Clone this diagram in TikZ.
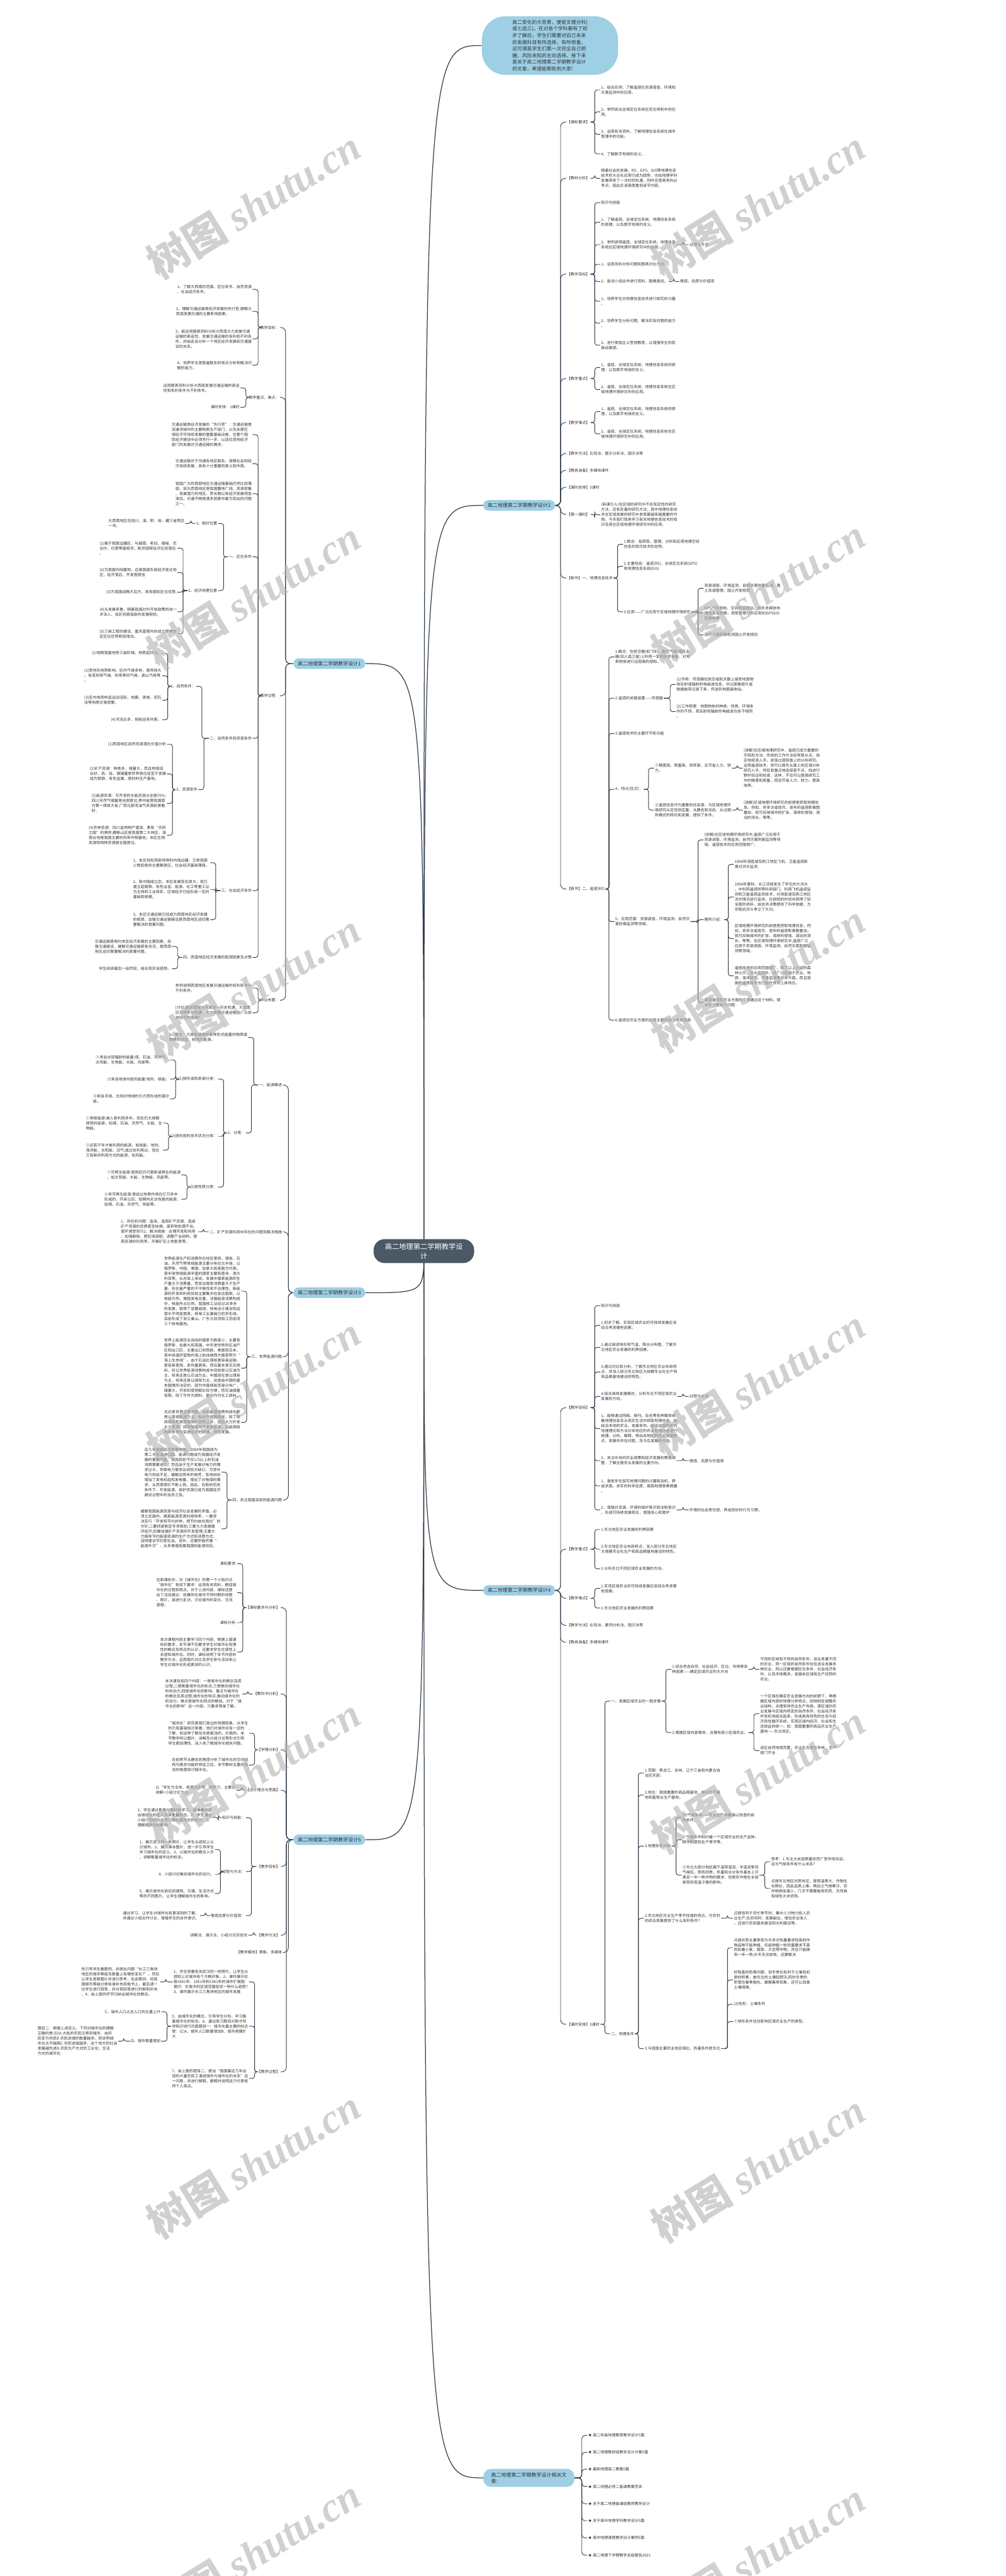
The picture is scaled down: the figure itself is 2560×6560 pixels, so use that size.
\documentclass[tikz,border=0pt]{standalone}
\usepackage{fontspec}
\setmainfont{Noto Sans CJK SC}
\newfontfamily\wmfont{Liberation Serif}
\usetikzlibrary{calc}
\definecolor{bl}{HTML}{9ECFE5}
\definecolor{cen}{HTML}{4B5967}
\definecolor{ln}{HTML}{34414E}
\definecolor{txt}{HTML}{333333}
\newcommand\sztxt{\fontsize{9.7}{12.8}\selectfont}
\newcommand\szbr{\fontsize{12.8}{16}\selectfont}
\newcommand\szcall{\fontsize{12.5}{17}\selectfont}
\newcommand\szcen{\fontsize{18}{24}\selectfont}
\pgfdeclarelayer{bgw}\pgfdeclarelayer{bg}\pgfdeclarelayer{fg}
\pgfsetlayers{bgw,bg,main,fg}
\tikzset{
  tx/.style={font=\sztxt, text=txt, inner xsep=2pt, inner ysep=0pt, align=left},
  tr/.style={tx, anchor=west},
  tl/.style={tx, anchor=east},
  conn/.style={draw=ln, line width=1.5pt},
  mconn/.style={draw=ln, line width=2pt},
  brn/.style={fill=bl, rounded corners=13pt, font=\szbr, text=txt, inner xsep=11pt, inner ysep=0pt, minimum height=27pt},
  wm/.style={font=\bfseries\fontsize{105}{105}\selectfont, text=black!30, text opacity=0.6, rotate=31.5},
}
\newcommand\lnR[3][6pt]{\draw[conn,rounded corners=#1] let \p1=(#2.east), \p2=(#3.west) in (\p1) -- (\x2-14pt,\y1) -- (\x2-14pt,\y2) -- (\p2);}
\newcommand\lnL[3][6pt]{\draw[conn,rounded corners=#1] let \p1=(#2.west), \p2=(#3.east) in (\p1) -- (\x2+14pt,\y1) -- (\x2+14pt,\y2) -- (\p2);}
\newcommand\mcR[1]{\draw[mconn] let \p1=(C.center), \p2=(#1.west) in (\p1) .. controls (\x1,\y2) .. (\p2);}
\newcommand\mcL[1]{\draw[mconn] let \p1=(C.center), \p2=(#1.east) in (\p1) .. controls (\x1,\y2) .. (\p2);}
\begin{document}
\begin{tikzpicture}[x=1pt,y=-1pt]
\begin{pgfonlayer}{bgw}
\fill[white] (0,0) rectangle (2560,6560);
\end{pgfonlayer}
\useasboundingbox (0,0) rectangle (2560,6560);

% ---------- central & callout ----------
\node[fill=cen, text=white, font=\szcen, rounded corners=28pt, minimum width=256pt, minimum height=61pt, align=center, inner sep=4pt] (C) at (1079,3186) {高二地理第二学期教学设\\计};
\node[fill=bl, rounded corners=60pt, minimum width=347pt, minimum height=149pt, font=\szcall, text=txt, align=left, inner sep=0pt] (T) at (1400,116) {高二变化的大背景，便是文理分科(\\或七选三)。在对各个学科都有了初\\步了解后，学生们需要对自己未来\\的发展科目有所选择、有所侧重。\\这可谓是学生们第一次完全自己把\\握、风险未知的主动选择。接下来\\是关于高二地理第二学期教学设计\\的文章，希望能帮助到大家!};

% ---------- branch 2 (right) ----------
\node[brn, anchor=west] (B2) at (1230,1287) {高二地理第二学期教学设计2};
\node[tr] (k1) at (1441,311) {【课标要求】};
\node[tr] (k2) at (1441,454) {【教材分析】};
\node[tr] (k3) at (1441,698) {【教学目标】};
\node[tr] (k4) at (1441,964) {【教学重点】};
\node[tr] (k5) at (1441,1076) {【教学难点】};
\node[tr] (k6) at (1441,1155) {【教学方法】比较法、图示分析法、图示法等};
\node[tr] (k7) at (1441,1198) {【教具准备】多媒体课件};
\node[tr] (k8) at (1441,1241) {【课时安排】3课时};
\node[tr] (k9) at (1441,1310) {【第一课时】};
\node[tr] (k10) at (1441,1472) {【板书】一、地理信息技术};
\node[tr] (k11) at (1441,2264) {【板书】二、遥感(RS)};

\node[tr] (k1a) at (1528,229) {1、结合实例，了解遥感在资源普查、环境和\\灾害监测中的应用。};
\node[tr] (k1b) at (1528,285) {2、举例说出全球定位系统在定位导航中的应\\用。};
\node[tr] (k1c) at (1528,342) {3、运用有关资料，了解地理信息系统在城市\\管理中的功能。};
\node[tr] (k1d) at (1528,392) {4、了解数字地球的含义。};
\node[tr] (k2a) at (1528,454) {随着社会的发展，RS、GPS、GIS等地理信息\\技术的大众化应用已成为趋势，也给地理学科\\发展带来了一次好的机遇，同时也是高考的必\\考点，因此应该高度重视该节内容。};
\node[tr] (k3a) at (1528,516) {知识与技能};
\node[tr] (k3b) at (1528,566) {1、了解遥感、全球定位系统、地理信息系统\\的原理，以及数字地球的含义。};
\node[tr] (k3c) at (1528,623) {2、举例说明遥感、全球定位系统、地理信息\\系统在区域地理环境研究中的应用。};
\node[tr] (k3c1) at (1753,623) {过程与方法};
\node[tr] (k3d) at (1528,673) {1、运用资料分析问题和图表对比方法。};
\node[tr] (k3e) at (1528,717) {2、尝试小组合作进行资料、图像查找。};
\node[tr] (k3e1) at (1729,717) {情感、态度与价值观};
\node[tr] (k3f) at (1528,767) {1、培养学生对地理信息技术进行探究的兴趣\\。};
\node[tr] (k3g) at (1528,823) {2、培养学生分析问题、解决实际问题的能力\\。};
\node[tr] (k3h) at (1528,879) {3、进行爱国主义思想教育，以增强学生的民\\族自豪感。};
\node[tr] (k4a) at (1528,936) {1、遥感、全球定位系统、地理信息系统的原\\理，以及数字地球的含义。};
\node[tr] (k4b) at (1528,992) {2、遥感、全球定位系统、地理信息系统在区\\域地理环境研究中的应用。};
\node[tr] (k5a) at (1528,1048) {1、遥感、全球定位系统、地理信息系统的原\\理，以及数字地球的含义。};
\node[tr] (k5b) at (1528,1105) {2、遥感、全球定位系统、地理信息系统在区\\域地理环境研究中的应用。};
\node[tr] (k9a) at (1528,1311) {(新课引入)在区域的研究中不仅有定性的研究\\方法，还有定量的研究方法，其中地理信息技\\术在区域发展的研究中发挥着越来越重要的作\\用。今天我们就来学习有关地理信息技术的知\\识及其在区域地理环境研究中的应用。};
\node[tr] (k10a) at (1586,1386) {1.概念：指获取、管理、分析和应用地理空间\\信息的现代技术的总称。};
\node[tr] (k10b) at (1586,1442) {2.主要包括：遥感(RS)、全球定位系统(GPS)\\和地理信息系统(GIS)};
\node[tr] (k10c) at (1586,1558) {3.应用——广泛应用于区域地理环境研究};
\node[tr] (k10c1) at (1791,1498) {资源调查、环境监测、自然灾害防御监测、国\\土资源管理、国土开发规划};
\node[tr] (k10c2) at (1791,1561) {GPS汽车导航、空间信息网站、城市多媒体地\\理信息系统等。获取管理分析应用RSGPSGIS\\区域地理};
\node[tr] (k10c3) at (1791,1617) {自然灾害防御检测国土开发规划};
\node[tr] (k11a) at (1564,1673) {1.概念：在航空器(如飞机、高空气球)或航天\\器(如人造卫星)上利用一定的技术装备，对地\\表物体进行远距离的感知。};
\node[tr] (k11b) at (1564,1778) {2.遥感的关键装置——传感器};
\node[tr] (k11b1) at (1720,1743) {(1)作用：传感器在航空或航天器上接受地面物\\体反射或辐射的电磁波信息，并以图像胶片或\\数据磁带记录下来，传送到地面接收站。};
\node[tr] (k11b2) at (1720,1812) {(2)工作原理：地面物体的种类、性质、环境条\\件的不同，其反射和辐射的电磁波也各不相同\\。};
\node[tr] (k11c) at (1564,1868) {3.遥感技术的主要环节和功能};
\node[tr] (k11d) at (1564,2010) {4、特点(优点)：};
\node[tr] (k11d1) at (1665,1956) {①精度高、质量高、效率高，且节省人力、财\\力。};
\node[tr] (k11d1a) at (1891,1956) {(讲解)在区域地理研究中，遥感已成为重要的\\手段和方法。传统的工作方法经常是从点、线\\实地观测入手，逐渐过渡到面上的分析研究。\\运用遥感技术，则可以首先从面上的区域分析\\研究入手，然后有重点地选择若干点、线进行\\野外验证和检查。这样，不仅可以提高研究工\\作的精度和质量，而且节省人力、财力，提高\\效率。};
\node[tr] (k11d2) at (1665,2063) {②遥感信息作为重要的信息源，为区域地理环\\境研究从定性到定量、从静态到动态、从过程\\到模式的转化和发展，提供了条件。};
\node[tr] (k11d2a) at (1891,2063) {(讲解)区域地理环境研究的前提是获取地理信\\息。例如，将多次或逐月、逐年的遥感影像图\\叠加，就可反映城市的扩张、海岸的侵蚀、湖\\泊的消长，等等。};
\node[tr] (k11e) at (1564,2347) {5、应用范围：资源调查、环境监测、自然灾\\害防御监测等领域。};
\node[tr] (k11e1) at (1791,2139) {(讲解)在区域地理环境研究中,遥感广泛应用于\\资源调查、环境监测、自然灾害防御监测等领\\域。遥感技术的应用范围很广。};
\node[tr] (k11e2) at (1791,2342) {案例介绍：};
\node[tr] (k11e2a) at (1868,2201) {1998年洞庭湖及荆江地区飞机、卫星遥感影\\像对洪水监测};
\node[tr] (k11e2b) at (1868,2284) {1998年夏秋，长江流域发生了罕见的大洪水\\，中科院遥感所等科研部门，利用飞机遥感监\\测和卫星遥感监测技术，对洞庭湖及荆江地区\\洪灾情况进行监测，在很短的时间内获得了较\\全面的资料，给抗洪决策提供了科学依据，为\\夺取抗洪斗争立了大功。};
\node[tr] (k11e2c) at (1868,2390) {区域地理环境研究的前提是获取地理信息。例\\如，将多次或逐月、逐年的遥感影像图叠加，\\就可反映城市的扩张、海岸的侵蚀、湖泊的消\\长，等等。在区域地理环境研究中,遥感广泛\\应用于资源调查、环境监测、自然灾害防御监\\测等领域。};
\node[tr] (k11e2d) at (1868,2485) {遥感技术的应用范围很广，除了以上介绍的森\\林火灾、洪水监测外，还广泛应用于农业、地\\质、海洋研究、环境监测等许多方面。而且我\\国的遥感技术也已经在世界上具地位。};
\node[tr] (k11e3) at (1791,2553) {阅读遥感在农业方面的应用通过这个材料，使\\学生了解如下问题：};
\node[tr] (k11f) at (1564,2598) {6.遥感在农业方面的应用主要包括土地资源调};

% ---------- branch 4 (right) ----------
\node[brn, anchor=west] (B4) at (1230,4050) {高二地理第二学期教学设计4};
\node[tr] (m3) at (1441,3585) {【教学目标】};
\node[tr] (m4) at (1441,3945) {【教学重点】};
\node[tr] (m5) at (1441,4070) {【教学难点】};
\node[tr] (m6) at (1441,4139) {【教学方法】比较法、案例分析法、图示法等};
\node[tr] (m7) at (1441,4182) {【教具准备】多媒体课件};
\node[tr] (m8) at (1441,5155) {【课时安排】3课时};
\node[tr] (m3a) at (1528,3325) {知识与技能};
\node[tr] (m3b) at (1528,3375) {1.初步了解，实现区域农业的可持续发展应该\\综合考虑哪些因素。};
\node[tr] (m3c) at (1528,3431) {2.通过阅读地形和气温、降水分布图，了解东\\北地区农业发展的利弊因素。};
\node[tr] (m3d) at (1528,3494) {3.通过对比和分析，了解东北地区农业布局特\\点，并深入探讨东北地区大规模专业化生产和\\商品粮基地建设的特色。};
\node[tr] (m3e) at (1528,3556) {4.结合具体发展模式，分析东北不同区域农业\\发展的方向。};
\node[tr] (m3e1) at (1753,3556) {过程与方法};
\node[tr] (m3f) at (1528,3638) {1、能够通过网络、报刊、杂志等各种媒体收\\集地理信息及从现实生活中获取地理信息，如\\结合本地的农业、发展条件。尝试运用所学的\\地理理论和方法对本地区的农业地理信息进行\\梳理、分析、解释，得出本地区的农业发展特\\点、发展中存在问题，及今后发展的方向。};
\node[tr] (m3g) at (1528,3720) {2、关注中央的农业政策和经济发展的策略调\\整，了解全国农业发展的主要方向。};
\node[tr] (m3g1) at (1753,3720) {情感、态度与价值观};
\node[tr] (m3h) at (1528,3784) {1、激发学生探究地理问题的兴趣和动机，养\\成求真、求实的科学态度，提高地理审美情趣\\。};
\node[tr] (m3i) at (1528,3845) {2、增强对资源、环境的保护意识和法制意识\\，形成可持续发展观念，增强关心和爱护};
\node[tr] (m3i1) at (1753,3845) {环境的社会责任感，养成良好的行为习惯。};
\node[tr] (m4a) at (1528,3895) {1.东北地区农业发展的利弊因素};
\node[tr] (m4b) at (1528,3945) {2.东北地区农业布局特点，深入探讨东北地区\\大规模专业化生产和商品粮基地建设的特色。};
\node[tr] (m4c) at (1528,3995) {3.分析东北不同区域农业发展的方向。};
\node[tr] (m5a) at (1528,4045) {1.实现区域农业的可持续发展应该综合考虑哪\\些因素。};
\node[tr] (m5b) at (1528,4095) {2.东北地区农业发展的利弊因素};
\node[tr] (m8a) at (1554,4332) {一、发展区域农业的一般步骤};
\node[tr] (m8a1) at (1709,4251) {1.综合考虑自然、社会经济、区位、市场等各\\种因素——确定区域农业的大方向};
\node[tr] (m8a1a) at (1933,4251) {不同的区域有不同的自然条件，适合发展不同\\的农业，同一区域的自然条件往往适合发展多\\种农业，所以还要根据区位条件、社会经济条\\件，以及市场需求，发展本区域有生产优势的\\农业。};
\node[tr] (m8a2) at (1709,4412) {2.根据区域内部差异，合理布局小区域农业。};
\node[tr] (m8a2a) at (1933,4364) {一个区域在确定农业发展方向的前提下，再根\\据区域内部的地理分异特点，因地制宜调整农\\业结构，合理安排农业生产布局，使区域的农\\业发展与区域内特定的自然条件、社会经济条\\件有机地结合起来，形成具有特色的生态与经\\济良性循环系统，实现区域内经济、社会和生\\态效益的统一。如：我国重要的商品农业生产\\基地——东北地区。};
\node[tr] (m8a2b) at (1933,4458) {该区自然地域完整，农业生态类型多样，生产\\部门齐全};
\node[tr] (m8b) at (1554,5179) {二、地理条件};
\node[tr] (m8b1) at (1639,4515) {1.范围：黑龙江、吉林、辽宁三省和内蒙古自\\治区东部。};
\node[tr] (m8b2) at (1639,4571) {2.地位：我国重要的商品粮基地、林业生产基\\地和畜牧业生产基地。};
\node[tr] (m8b3) at (1639,4701) {3.地理条件分析};
\node[tr] (m8b3a) at (1735,4628) {(1)气候条件——农业生产中最难以改造的自\\然条件。};
\node[tr] (m8b3b) at (1735,4685) {①气候条件制约着一个区域农业的生产品种、\\耕作制度和生产季节等。};
\node[tr] (m8b3c) at (1735,4775) {②东北大部分地区属于温带湿润、半湿润季风\\气候区。雨热同季，热量和水分条件基本上可\\满足一年一熟作物的需求，但是农作物生长容\\易受到低温冷害的影响。};
\node[tr] (m8b3c1) at (1961,4741) {思考：1.东北大米因质量优而广受市场欢迎，\\这与气候条件有什么关系?};
\node[tr] (m8b3c2) at (1961,4809) {点拨东北地区光照充足，昼夜温差大，作物生\\长期长，因此品质上乘，再加之气候寒冷，农\\作物病虫害少，几乎不需要施用农药，天然具\\有绿色大米优势。};
\node[tr] (m8b4) at (1639,4885) {2.东北地区农业生产季节性强的特点，为农村\\的综合发展提供了什么有利条件?};
\node[tr] (m8b4a) at (1866,4885) {点拨有利于农忙季节时，集中人力物力投入农\\业生产;在农闲时，发展副业，增加农业收入\\，还进行农田基本建设和水利建设等。};
\node[tr] (m8b5) at (1639,5217) {3.与我国主要农业地区相比，热量条件是东北};
\node[tr] (m8b5a) at (1866,4960) {点拨劣势主要表现为许多对热量要求较高的作\\物品种不能种植，仅能种植一些热量要求不高\\的如春小麦、甜菜、大豆等作物，并且只能做\\到一年一熟;长冬无法放牧，还要解决};
\node[tr] (m8b5b) at (1866,5042) {好牲畜的防寒问题，但冬季长有利于土壤有机\\质的积累，故东北的土壤较肥沃;同时冬季的\\积雪在春季融化，缓解春旱现象，还可以改善\\土壤墒情。};
\node[tr] (m8b5c) at (1866,5104) {(2)地形、土壤条件};
\node[tr] (m8b5d) at (1866,5148) {①地形条件往往影响区域农业生产的类型。};

% ---------- related articles (right) ----------
\node[brn, anchor=west, align=left, inner xsep=20pt, minimum height=46pt, rounded corners=20pt, font=\fontsize{12.8}{16}\selectfont] (B6) at (1230,6310) {高二地理第二学期教学设计相关文\\章：};
\node[tr] (r3) at (1495,6202) {★ 高二年级地理教育教学设计5篇};
\node[tr] (r4) at (1495,6245) {★ 高二地理教研组教学设计方案5篇};
\node[tr] (r5) at (1495,6288) {★ 最新地理高二教案5篇};
\node[tr] (r6) at (1495,6332) {★ 高二地理必修二备课教案范本};
\node[tr] (r7) at (1495,6376) {★ 关于高二地理备课组教师教学设计};
\node[tr] (r8) at (1495,6419) {★ 关于高中地理学科教学设计5篇};
\node[tr] (r9) at (1495,6463) {★ 高中地理课程教学设计案例5篇};
\node[tr] (r10) at (1495,6507) {★ 高二地理下学期教学总结报告2021};

% ---------- branch 1 (left) ----------
\node[brn, anchor=east] (B1) at (930,1690) {高二地理第二学期教学设计1};
\node[tl] (n1) at (713,834) {教学目标：};
\node[tl] (n1a) at (643,737) {1、了解大西南的范围、区位条件、自然资源\\、社会经济条件。};
\node[tl] (n1b) at (643,793) {2、理解交通运输是经济发展的先行官;理解大\\西南发展交通的主要影响因素。};
\node[tl] (n1c) at (643,863) {3、能运用图表资料分析大西南大力发展交通\\运输的紧迫性，发展交通运输的有利和不利条\\件，并由此会分析一个地区经济发展和交通建\\设的关系。};
\node[tl] (n1d) at (643,930) {4、培养学生用普遍联系的观点分析和解决问\\题的能力。};
\node[tl] (n2) at (713,1012) {教学重点、难点：};
\node[tl] (n2a) at (612,988) {运用图表资料分析大西南发展交通运输的紧迫\\性和有利条件与不利条件。};
\node[tl] (n2b) at (612,1037) {课时安排：1课时};
\node[tl] (n3) at (713,1772) {教学过程：};
\node[tl] (n3a) at (643,1107) {交通运输是经济发展的“先行官”：交通运输是\\流通领域中的主要物质生产部门，以及支撑区\\域经济可持续发展的重要基础设施，在整个国\\民经济建设中必须先行一步，以适应其他经济\\部门的发展对交通运输的需求。};
\node[tl] (n3b) at (643,1181) {交通运输对于沟通各地区联系、保障社会和经\\济持续发展，具有十分重要的意义和作用。};
\node[tl] (n3c) at (643,1257) {我国广大的西部地区交通运输基础仍然比较薄\\弱，如大西南地区是我国腹地广阔、资源密集\\、发展潜力的地区，而长期以来经济发展明显\\滞后，交通不畅是诸多因素中最为突出的问题\\之一。};
\node[tl] (n3d) at (643,1418) {一、区位条件};
\node[tl] (n3d1) at (555,1333) {1、相对位置};
\node[tl] (n3d1a) at (472,1333) {大西南地区包括川、滇、黔、桂、藏三省两区\\一市。};
\node[tl] (n3d2) at (555,1504) {2、经济地理位置};
\node[tl] (n3d2a) at (452,1396) {(1)属于我国边疆区，与越南、老挝、缅甸、尼\\泊尔、印度等国相邻，毗邻国家经济比较落后\\。};
\node[tl] (n3d2b) at (452,1458) {(2)为我国内陆腹地，远离我国东部经济发达地\\区，经济落后，开发程度低};
\node[tl] (n3d2c) at (452,1508) {(3)为我国战略大后方，具有国际区位优势;};
\node[tl] (n3d2d) at (452,1558) {(4)从发展来看，随着我国对外开放政策的进一\\步深入，该区将面临新的发展契机。};
\node[tl] (n3d2e) at (452,1614) {(5)三峡工程的建设、重庆直辖市的成立使得本\\区区位优势明显增加。};
\node[tl] (n3e) at (643,1880) {二、自然条件和资源条件};
\node[tl] (n3e1) at (500,1748) {1、自然条件：};
\node[tl] (n3e1a) at (413,1664) {(1)地跨我国地势三级阶梯，地势起伏大。};
\node[tl] (n3e1b) at (413,1721) {(2)受地形地势影响，区内气候多样，差异很大\\。有亚热带气候、热带季风气候、高山气候等\\。};
\node[tl] (n3e1c) at (413,1783) {(3)区内地壳构造运动活跃，地震、滑坡、泥石\\流等地质灾害频繁。};
\node[tl] (n3e1d) at (413,1833) {(4)河流众多，但航运条件差。};
\node[tl] (n3e2) at (505,2011) {2、资源条件};
\node[tl] (n3e2a) at (425,1895) {(1)西南地区自然资源潜在价值分析};
\node[tl] (n3e2b) at (425,1971) {(2)矿产资源：种类多，储量大，而且地域组\\合好。钒、钛、锡储量居世界首位适宜于发展\\成为钢铁、有色金属、原材料生产基地。};
\node[tl] (n3e2c) at (425,2046) {(3)能源资源：可开发的水能资源占全国70\%;\\四川天然气储量居全国首位;贵州省是我国南\\方第一煤炭大省;广西北部湾油气资源前景看\\好。};
\node[tl] (n3e2d) at (425,2127) {(4)农林资源：四川盆地物产富饶，素有“天府\\之国”的美称;横断山区是我国第二大林区，滇\\南谷地是我国主要的热带作物基地。本区生物\\资源和物种资源居全国首位。};
\node[tl] (n3f) at (643,2268) {三、社会经济条件};
\node[tl] (n3f1) at (535,2197) {1、本区地处西部地带的内陆边疆，又是我国\\少数民族的主要聚居区，社会经济基础薄弱。};
\node[tl] (n3f2) at (535,2265) {2、新中国成立后，本区发展变化很大，现已\\建立起钢铁、有色冶金、能源、化工等重工业\\为主体的工业体系，区域经济已经形成一定的\\基础和规模。};
\node[tl] (n3f3) at (535,2342) {3、本区交通运输已经成为西南地区经济发展\\的瓶颈，加强交通运输建设是西南地区迫切需\\要解决的首要问题。};
\node[tl] (n3g) at (643,2438) {四、西南地区经济发展的瓶颈因素及对策};
\node[tl] (n3g1) at (438,2410) {交通运输是制约本区经济发展的主要因素。加\\强交通建设，缓解交通运输紧张状况，是西南\\地区迫切需要解决的首要问题。};
\node[tl] (n3g2) at (438,2467) {学生阅读最后一自然段，结合现实谈感想。};
\node[tl] (n4) at (713,2547) {作业布置：};
\node[tl] (n4a) at (643,2516) {举例说明西南地区发展交通运输的有利条件与\\不利条件。};
\node[tl] (n4b) at (643,2579) {[讨论]面对西部大开发这一历史机遇，大西南\\应怎样抓住机遇，大力发展交通运输业，以促\\进经济的发展?};

% ---------- branch 3 (left) ----------
\node[brn, anchor=east] (B3) at (930,3292) {高二地理第二学期教学设计3};
\node[tl] (p1) at (720,2763) {一、能源概述};
\node[tl] (p1a) at (632,2642) {1、概念：凡是能够提供某种形式能量的物质或\\物质的运动，统称为能源。};
\node[tl] (p1b) at (626,2885) {2、分类：};
\node[tl] (p1b1) at (555,2748) {(1)按形成和来源分类：};
\node[tl] (p1b1a) at (433,2699) {①来自太阳辐射的能量:煤、石油、天然气、\\太阳能、生物能、水能、风能等。};
\node[tl] (p1b1b) at (433,2748) {②来自地球内部的能量:地热、核能。};
\node[tl] (p1b1c) at (433,2798) {③来自月球、太阳对地球的引力而形成的潮汐\\能。};
\node[tl] (p1b2) at (555,2894) {(2)按利用的技术状况分类：};
\node[tl] (p1b2a) at (415,2860) {①常规能源:被人类利用多年，现在仍大规模\\使用的能源，如煤、石油、天然气、水能、生\\物能。};
\node[tl] (p1b2b) at (415,2929) {②近若干年才被利用的能源，如核能、地热、\\海洋能、太阳能、沼气;或过去利用过，现在\\又有新的利用方式的能源，如风能。};
\node[tl] (p1b3) at (555,3023) {(3)按性质分类：};
\node[tl] (p1b3a) at (462,2992) {①可再生能源:使用后仍可更新或再生的能源\\，如太阳能、水能、生物能、风能等。};
\node[tl] (p1b3b) at (462,3054) {②非可再生能源:是经过地质作用在亿万年中\\形成的，开采以后，短期内无法恢复的能源，\\如煤、石油、天然气、核能等。};
\node[tl] (p2) at (720,3137) {二、矿产资源利用中存在的问题及解决措施};
\node[tl] (p2a) at (504,3137) {1、存在的问题：滥采、滥用矿产资源，造成\\矿产资源的浪费甚至枯竭，废弃物处理不当，\\使环境受到污2、解决措施：合理开发和利用\\，加强勘探，跨区域调配，调整产业结构，提\\高资源的利用率，开展矿区土地复垦等。};
\node[tl] (p3) at (720,3455) {三、世界能源问题};
\node[tl] (p3a) at (614,3288) {世界能源生产和消费存在地区差异。煤炭、石\\油、天然气等常规能源主要分布在北半球，以\\俄罗斯、中国、美国、加拿大和英国为代表。\\南半球常规能源丰富的国家主要有南非、澳大\\利亚等。从总体上来说，发展中国家能源的生\\产量大于消费量，而发达国家消费量大于生产\\量，存在着严重的不平衡性和不合理性。新能\\源的开发和利用目前主要集中在发达国家。以\\核能为例，美国发电总量，法国能源消费构成\\中，核能所占比例。我国核工业经过20多年\\的发展，取得了显著成绩，核电设计建设和运\\营水平明显提高，核电工业基础已初步形成。\\目前形成了浙江秦山、广东大亚湾和江苏田湾\\三个核电基地。};
\node[tl] (p3b) at (614,3484) {世界上能源完全自给的国家为数甚少，主要有\\俄罗斯、加拿大和英国。中东是世界的石油产\\区和出口区，主要出口到西欧、美国和日本，\\其中绕道好望角的海上航线被西方国家称为“\\海上生命线”。由于石油比煤炭更容易运输，\\更容易使用，发热量更高，而且基本是无灰燃\\料，所以世界能源消费构成中目前是以石油为\\主，将来还是以石油为主。中国现在是以煤炭\\为主，将来还是以煤炭为主，这是由中国的基\\本国情所决定的，因为中国煤炭资源分布广，\\储量大，开采和使用都比较方便，而石油储量\\有限，除了可作为燃料，更应作为化工原料。};
\node[tl] (p3c) at (614,3622) {无论是世界还是中国，目前能源消费构成中都\\是以常规能源为主。但对于中国来说，除了继\\续保持和发挥煤炭的优势以外，还应大力开发\\水力资源，因地制宜地开发新能源，以能源结\\构的多样化促进经济的快速、良性发展。};
\node[tl] (p4) at (720,3820) {四、关注我国目前的能源问题};
\node[tl] (p4a) at (564,3749) {近几年我国经济发展很快，2004年我国成为\\第二大石油进口国，能源问题成为我国经济发\\展的重要问题。我国目前不仅1/3以上的石油\\消费需要进口，而且由于生产发展对电力的需\\求过大，导致电力需求出现较大缺口，为弥补\\电力供给不足，缓解近两年的电荒，各地纷纷\\增加了发电机组和发电量，增加了对电煤的需\\求，从而使煤价不断上扬。因此，在新的历史\\条件下，开发能源、保护资源已成为我国经济\\建设过程中的当务之急。};
\node[tl] (p4b) at (564,3893) {缓解我国能源资源与经济社会发展的矛盾，必\\须立足国内，提高能源资源利用效率，一要坚\\决实行“开发和节约并举，把节约放在首位”的\\方针;二要抓紧制定专项规划;三要大力发展循\\环经济;四要加强矿产资源的开发管理;五要大\\力倡导节约能源资源的生产方式和消费方式，\\加快建设节约型社会。另外，还要积极开展“\\能源外交”，从多渠道拓展我国的能源供应。};

% ---------- branch 5 (left) ----------
\node[brn, anchor=east] (B5) at (930,4685) {高二地理第二学期教学设计5};
\node[tl] (q1) at (715,4094) {【课标要求与分析】};
\node[tl] (q1a) at (604,3982) {课标要求:};
\node[tl] (q1b) at (604,4056) {在新课标中，对《城市化》的第一个小知识点\\“城市化”有如下要求：运用有关资料，概括城\\市化的过程和特点。对于上述内容，课标还提\\出了活动建议：收集所在城市不同时期的地图\\、照片，或进行走访，讨论城市的变化，交流\\感想。};
\node[tl] (q1c) at (604,4132) {课标分析:};
\node[tl] (q1d) at (604,4207) {本次课程内容主要学习四个内容，根据上面课\\标的要求，本节课不仅要求学生对城市化有理\\性的概念及特点的认识，还要求学生在感性上\\去感知城市化。同时，课标说明了本节内容的\\教学方法，运用图片对比及学生参与活动来让\\学生对城市化形成更深的认识。};
\node[tl] (q2) at (715,4314) {【教科书分析】};
\node[tl] (q2a) at (617,4314) {本次课包括四个内容：一是城市化的概念及其\\过程;二是衡量城市化的标志;三是推动城市化\\的的动力;四是城市化的影响。重点为城市化\\的概念及其过程;城市化的特点;推动城市化的\\的动力。难点是城市化特点的概括。对于“城\\市化的影响”这一内容，只要求简单了解。};
\node[tl] (q3) at (715,4456) {【学情分析】};
\node[tl] (q3a) at (634,4414) {“城市化”研究是我们身边的地理现象，从学生\\的已有基础知识来看，他们对城市化有一定的\\了解，但这种了解往往是粗浅的、片面的，本\\节教学将以图片、讲解及分组讨论等形式引导\\学生更加理性、深入地了解城市化相关问题。};
\node[tl] (q3b) at (634,4495) {在前两节从静态的角度分析了城市化的空间结\\构与服务功能的特征之后，本节教材主要从动\\态的角度探讨城市化。};
\node[tl] (q4) at (715,4559) {【设计理念与思路】};
\node[tl] (q4a) at (602,4559) {以“学生为主体，老师为主导”的学习，主要以\\讲解+小组讨论为主。};
\node[tl] (q5) at (715,4753) {【教学目标】};
\node[tl] (q5a) at (626,4629) {知识与技能：};
\node[tl] (q5a1) at (542,4628) {1、学生通过影像与教材的学习，能准确的说\\出城市化的定义及其衡量标志。2、学生通过\\小组讨论的方法学习推动城市化的动力。3、\\理解城市化的影响};
\node[tl] (q5b) at (626,4766) {过程与方法：};
\node[tl] (q5b1) at (547,4710) {1、展示武汉的一些照片，让学生从感知上认\\识城市。2、展示课本图片，进一步引导学生\\学习城市化的定义。3、以城市化的概念入手\\，讲解衡量城市化的标志。};
\node[tl] (q5b2) at (547,4773) {4、小组讨论推动城市化的动力。};
\node[tl] (q5b3) at (547,4822) {5、展示城市化前后的建筑、交通、生活方式\\等的不同图片，让学生理解城市化的影响。};
\node[tl] (q5c) at (626,4878) {情感态度与价值观：};
\node[tl] (q5c1) at (509,4878) {通过学习，让学生对城市化有更深刻的了解，\\并通过小组合作讨论，增强学生的合作意识。};
\node[tl] (q6) at (715,4928) {【教学方法】};
\node[tl] (q6a) at (632,4928) {讲解法、演示法、小组讨论实验法};
\node[tl] (q7) at (720,4972) {【教学媒体】黑板、多媒体};
\node[tl] (q8) at (715,5276) {【教学过程】};
\node[tl] (q8a) at (634,5047) {1、学生观看有关武汉的一些照片，让学生从\\感知上对城市有个大概印象。2、课件展示伦\\敦1801年、1851年和1981年的城市扩展图\\提问：伦敦市的区域范围呈现一种什么趋势?\\3、课件展示长江三角洲地区的城市发展};
\node[tl] (q8a1) at (408,5047) {先引导学生看图例，并提出问题“长江三角洲\\地区的城市等级及数量上有哪些变化?”，然后\\让学生观察图片并进行思考，在此期间，将我\\国城市等级分类标准补充到板书上，最后请一\\位学生进行回答，并对其回答进行判断和补充\\，4、由上面的环节归纳出城市化的概念。};
\node[tl] (q8b) at (634,5160) {5、由城市化的概念，引导学生分析、学习衡\\量城市化的标志。6、通过练习题目对刚才所\\学知识进行巩固题目一：城市化最主要的标志\\是：(C)A、城市人口数量增加B、城市规模扩\\大};
\node[tl] (q8b1) at (411,5123) {C、城市人口占总人口的比重上升};
\node[tl] (q8b2) at (411,5198) {D、城市数量增加};
\node[tl] (q8b2a) at (301,5198) {题目二：根据上述定义，下列对城市化的理解\\正确的是:(D)A.大批的农民迁移到城市，由农\\民变为市民B.农民进城的数量越多，就说明城\\市化水平越高C.农民进城越多，这个地方的社会\\发展越先进D.农民生产方式的工业化、生活\\方式的城市化};
\node[tl] (q8c) at (634,5293) {7、由上面的题目二，提出“我国最近几年出\\现的大量农民工涌进城市与城市化的关系”这\\一问题，并进行解释，解释时说明这只代表老\\师个人观点。};

% ---------- connectors ----------
\begin{pgfonlayer}{bg}
\mcR{T}\mcR{B2}\mcR{B4}\mcR{B6}\mcL{B1}\mcL{B3}\mcL{B5}
% B2
\foreach \c in {k1,k2,k3,k4,k5,k6,k7,k8,k9,k10,k11} {\lnR[12pt]{B2}{\c}}
\foreach \c in {k1a,k1b,k1c,k1d} {\lnR{k1}{\c}}
\lnR{k2}{k2a}
\foreach \c in {k3a,k3b,k3c,k3d,k3e,k3f,k3g,k3h} {\lnR{k3}{\c}}
\lnR{k3c}{k3c1}\lnR{k3e}{k3e1}
\lnR{k4}{k4a}\lnR{k4}{k4b}\lnR{k5}{k5a}\lnR{k5}{k5b}
\lnR{k9}{k9a}
\foreach \c in {k10a,k10b,k10c} {\lnR{k10}{\c}}
\foreach \c in {k10c1,k10c2,k10c3} {\lnR{k10c}{\c}}
\foreach \c in {k11a,k11b,k11c,k11d,k11e,k11f} {\lnR{k11}{\c}}
\lnR{k11b}{k11b1}\lnR{k11b}{k11b2}
\lnR{k11d}{k11d1}\lnR{k11d}{k11d2}\lnR{k11d1}{k11d1a}\lnR{k11d2}{k11d2a}
\foreach \c in {k11e1,k11e2,k11e3} {\lnR{k11e}{\c}}
\foreach \c in {k11e2a,k11e2b,k11e2c,k11e2d} {\lnR{k11e2}{\c}}
% B4
\foreach \c in {m3,m4,m5,m6,m7,m8} {\lnR[12pt]{B4}{\c}}
\foreach \c in {m3a,m3b,m3c,m3d,m3e,m3f,m3g,m3h,m3i} {\lnR{m3}{\c}}
\lnR{m3e}{m3e1}\lnR{m3g}{m3g1}\lnR{m3i}{m3i1}
\foreach \c in {m4a,m4b,m4c} {\lnR{m4}{\c}}
\lnR{m5}{m5a}\lnR{m5}{m5b}
\lnR{m8}{m8a}\lnR{m8}{m8b}
\lnR{m8a}{m8a1}\lnR{m8a}{m8a2}\lnR{m8a1}{m8a1a}\lnR{m8a2}{m8a2a}\lnR{m8a2}{m8a2b}
\foreach \c in {m8b1,m8b2,m8b3,m8b4,m8b5} {\lnR{m8b}{\c}}
\foreach \c in {m8b3a,m8b3b,m8b3c} {\lnR{m8b3}{\c}}
\lnR{m8b3c}{m8b3c1}\lnR{m8b3c}{m8b3c2}\lnR{m8b4}{m8b4a}
\foreach \c in {m8b5a,m8b5b,m8b5c,m8b5d} {\lnR{m8b5}{\c}}
% B6
\foreach \c in {r3,r4,r5,r6,r7,r8,r9,r10} {\lnR[8pt]{B6}{\c}}
% B1
\foreach \c in {n1,n2,n3,n4} {\lnL[12pt]{B1}{\c}}
\foreach \c in {n1a,n1b,n1c,n1d} {\lnL{n1}{\c}}
\lnL{n2}{n2a}\lnL{n2}{n2b}
\foreach \c in {n3a,n3b,n3c,n3d,n3e,n3f,n3g} {\lnL{n3}{\c}}
\lnL{n3d}{n3d1}\lnL{n3d}{n3d2}\lnL{n3d1}{n3d1a}
\foreach \c in {n3d2a,n3d2b,n3d2c,n3d2d,n3d2e} {\lnL{n3d2}{\c}}
\lnL{n3e}{n3e1}\lnL{n3e}{n3e2}
\foreach \c in {n3e1a,n3e1b,n3e1c,n3e1d} {\lnL{n3e1}{\c}}
\foreach \c in {n3e2a,n3e2b,n3e2c,n3e2d} {\lnL{n3e2}{\c}}
\foreach \c in {n3f1,n3f2,n3f3} {\lnL{n3f}{\c}}
\lnL{n3g}{n3g1}\lnL{n3g}{n3g2}
\lnL{n4}{n4a}\lnL{n4}{n4b}
% B3
\foreach \c in {p1,p2,p3,p4} {\lnL[12pt]{B3}{\c}}
\lnL{p1}{p1a}\lnL{p1}{p1b}
\foreach \c in {p1b1,p1b2,p1b3} {\lnL{p1b}{\c}}
\foreach \c in {p1b1a,p1b1b,p1b1c} {\lnL{p1b1}{\c}}
\lnL{p1b2}{p1b2a}\lnL{p1b2}{p1b2b}\lnL{p1b3}{p1b3a}\lnL{p1b3}{p1b3b}
\lnL{p2}{p2a}
\foreach \c in {p3a,p3b,p3c} {\lnL{p3}{\c}}
\lnL{p4}{p4a}\lnL{p4}{p4b}
% B5
\foreach \c in {q1,q2,q3,q4,q5,q6,q7,q8} {\lnL[12pt]{B5}{\c}}
\foreach \c in {q1a,q1b,q1c,q1d} {\lnL{q1}{\c}}
\lnL{q2}{q2a}\lnL{q3}{q3a}\lnL{q3}{q3b}\lnL{q4}{q4a}
\foreach \c in {q5a,q5b,q5c} {\lnL{q5}{\c}}
\lnL{q5a}{q5a1}\lnL{q5c}{q5c1}
\foreach \c in {q5b1,q5b2,q5b3} {\lnL{q5b}{\c}}
\lnL{q6}{q6a}
\foreach \c in {q8a,q8b,q8c} {\lnL{q8}{\c}}
\lnL{q8a}{q8a1}\lnL{q8b}{q8b1}\lnL{q8b}{q8b2}\lnL{q8b2}{q8b2a}
\end{pgfonlayer}

% ---------- watermarks ----------
\begin{pgfonlayer}{fg}
\foreach \yy in {521,1510,2490,3522,4530,5520,6510} {\node[wm] at (1930,\yy) {树图 {\wmfont\itshape shutu.cn}};}
\foreach \yy in {520,1515,2514,3541,4511,5510,6500} {\node[wm] at (646,\yy) {树图 {\wmfont\itshape shutu.cn}};}
\end{pgfonlayer}
\end{tikzpicture}
\end{document}
